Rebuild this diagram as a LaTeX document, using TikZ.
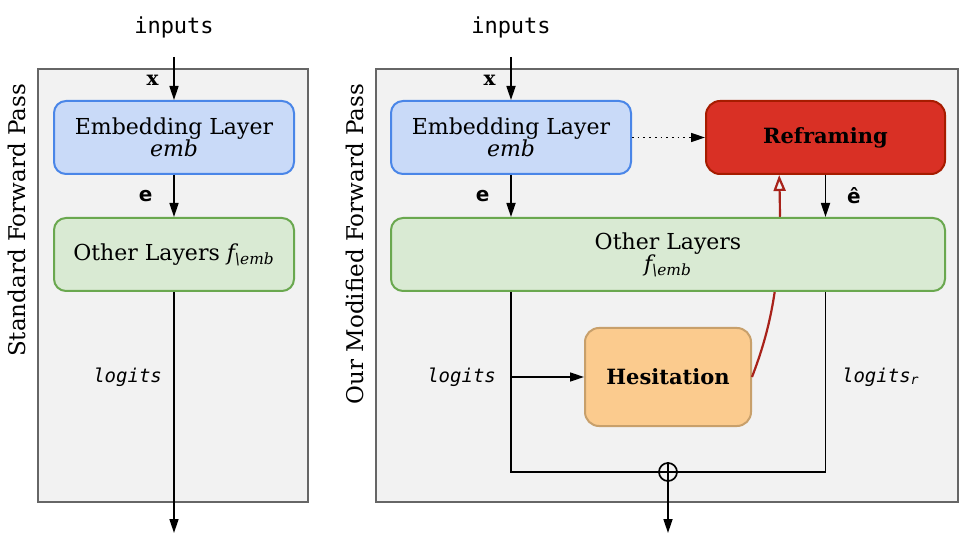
\documentclass[tikz,border=0pt]{standalone}
\usepackage{fontspec}
\setmainfont{DejaVu Serif}
\setsansfont{DejaVu Sans}
\setmonofont{DejaVu Sans Mono}
\usetikzlibrary{arrows.meta}

\definecolor{embfill}{HTML}{C9DAF8}
\definecolor{embline}{HTML}{4A86E8}
\definecolor{othfill}{HTML}{D9EAD3}
\definecolor{othline}{HTML}{6AA84F}
\definecolor{refill}{HTML}{D93025}
\definecolor{reline}{HTML}{A61C00}
\definecolor{hesfill}{HTML}{FBCB8E}
\definecolor{hesline}{HTML}{C8A06B}
\definecolor{curveline}{HTML}{A8221A}

\begin{document}
\begin{tikzpicture}[x=0.5pt,y=-0.5pt,
        panel/.style={draw=black!60,fill=black!5,line width=1pt},
        layer/.style={draw,rounded corners=6pt,line width=1pt,
            minimum height=36.5pt,align=center,
            font=\fontsize{11}{11}\selectfont},
        block/.style={draw,rounded corners=7pt,line width=1pt,
            font=\fontsize{10.5}{12}\selectfont\bfseries},
        side/.style={rotate=90,anchor=east,font=\fontsize{11.5}{13}\selectfont},
        code/.style={font=\fontsize{11}{13}\selectfont\ttfamily},
        tag/.style={font=\fontsize{9.5}{12}\selectfont\ttfamily\itshape},
        arr/.style={-{Triangle[length=7pt,width=4.5pt]},line width=0.85pt}]
\useasboundingbox (0,0) rectangle (960,540);

% standard pass
\draw[panel] (38,69) rectangle (308,502);
\node[side] (sidel) at (17,77) {Standard Forward Pass};
\node[code] (inp1) at (174,27) {inputs};
\coordinate (top1) at (174,57);
\coordinate (bot1) at (174,533);
\node[layer,fill=embfill,draw=embline,minimum width=120pt] (emb1) at (174,137.5)
    {Embedding Layer\\\textit{emb}};
\node[layer,fill=othfill,draw=othline,minimum width=120pt] (oth1) at (174,254.5)
    {Other Layers {\itshape f}\textsubscript{\itshape\textbackslash emb}};
\draw[arr] (top1) -- (emb1) node[pos=0.55,left=4pt,font=\bfseries] {x};
\draw[arr] (emb1) -- (oth1) node[midway,left=7pt,font=\sffamily\bfseries] {e};
\draw[arr] (oth1) -- (bot1);
\node[tag,anchor=east] (lg1) at (169,377) {logits};

% modified pass
\draw[panel] (376,69) rectangle (958,502);
\node[side] (sider) at (355,77) {Our Modified Forward Pass};
\node[code] (inp2) at (511,27) {inputs};
\coordinate (top2) at (511,57);
\coordinate (bot2) at (668,533);
\node[layer,fill=embfill,draw=embline,minimum width=120pt] (emb2) at (511,137.5)
    {Embedding Layer\\\textit{emb}};
\node[block,fill=refill,draw=reline,minimum width=119.5pt,minimum height=36.5pt]
    (refr) at (825.5,137.5) {Reframing};
\node[block,fill=hesfill,draw=hesline,minimum width=83pt,minimum height=49pt]
    (hes) at (668,377) {Hesitation};
\draw[-{Triangle[open,length=8pt,width=6pt]},draw=curveline,line width=1.1pt]
    (hes.east) .. controls (770,330) and (782,280) .. (refr.219);
\node[layer,fill=othfill,draw=othline,minimum width=277pt] (oth2) at (668,254.5)
    {Other Layers\\{\itshape f}\textsubscript{\itshape\textbackslash emb}};
\node[circle,draw,line width=0.85pt,minimum size=9pt,inner sep=0pt] (sum) at (668,472) {};
\draw[line width=0.85pt] (sum.north) -- (sum.south) (sum.west) -- (sum.east);

\draw[arr] (top2) -- (emb2) node[pos=0.55,left=4pt,font=\bfseries] {x};
\draw[arr] (emb2) -- (emb2 |- oth2.north) node[midway,left=7pt,font=\sffamily\bfseries] {e};
\draw[arr,dotted] (emb2) -- (refr);
\draw[arr] (refr) -- (refr |- oth2.north) node[midway,right=7pt,font=\sffamily\bfseries] {ê};
\draw[line width=0.85pt] (emb2 |- oth2.south) |- (sum.west);
\draw[line width=0.85pt] (refr |- oth2.south) |- (sum.east);
\draw[arr] (emb2 |- hes) -- (hes);
\draw[arr] (sum) -- (bot2);
\node[tag,anchor=east] (lg2) at (503,377) {logits};
\node[tag,anchor=west] (lg3) at (835,377) {logits\textsubscript{r}};
\end{tikzpicture}
\end{document}
